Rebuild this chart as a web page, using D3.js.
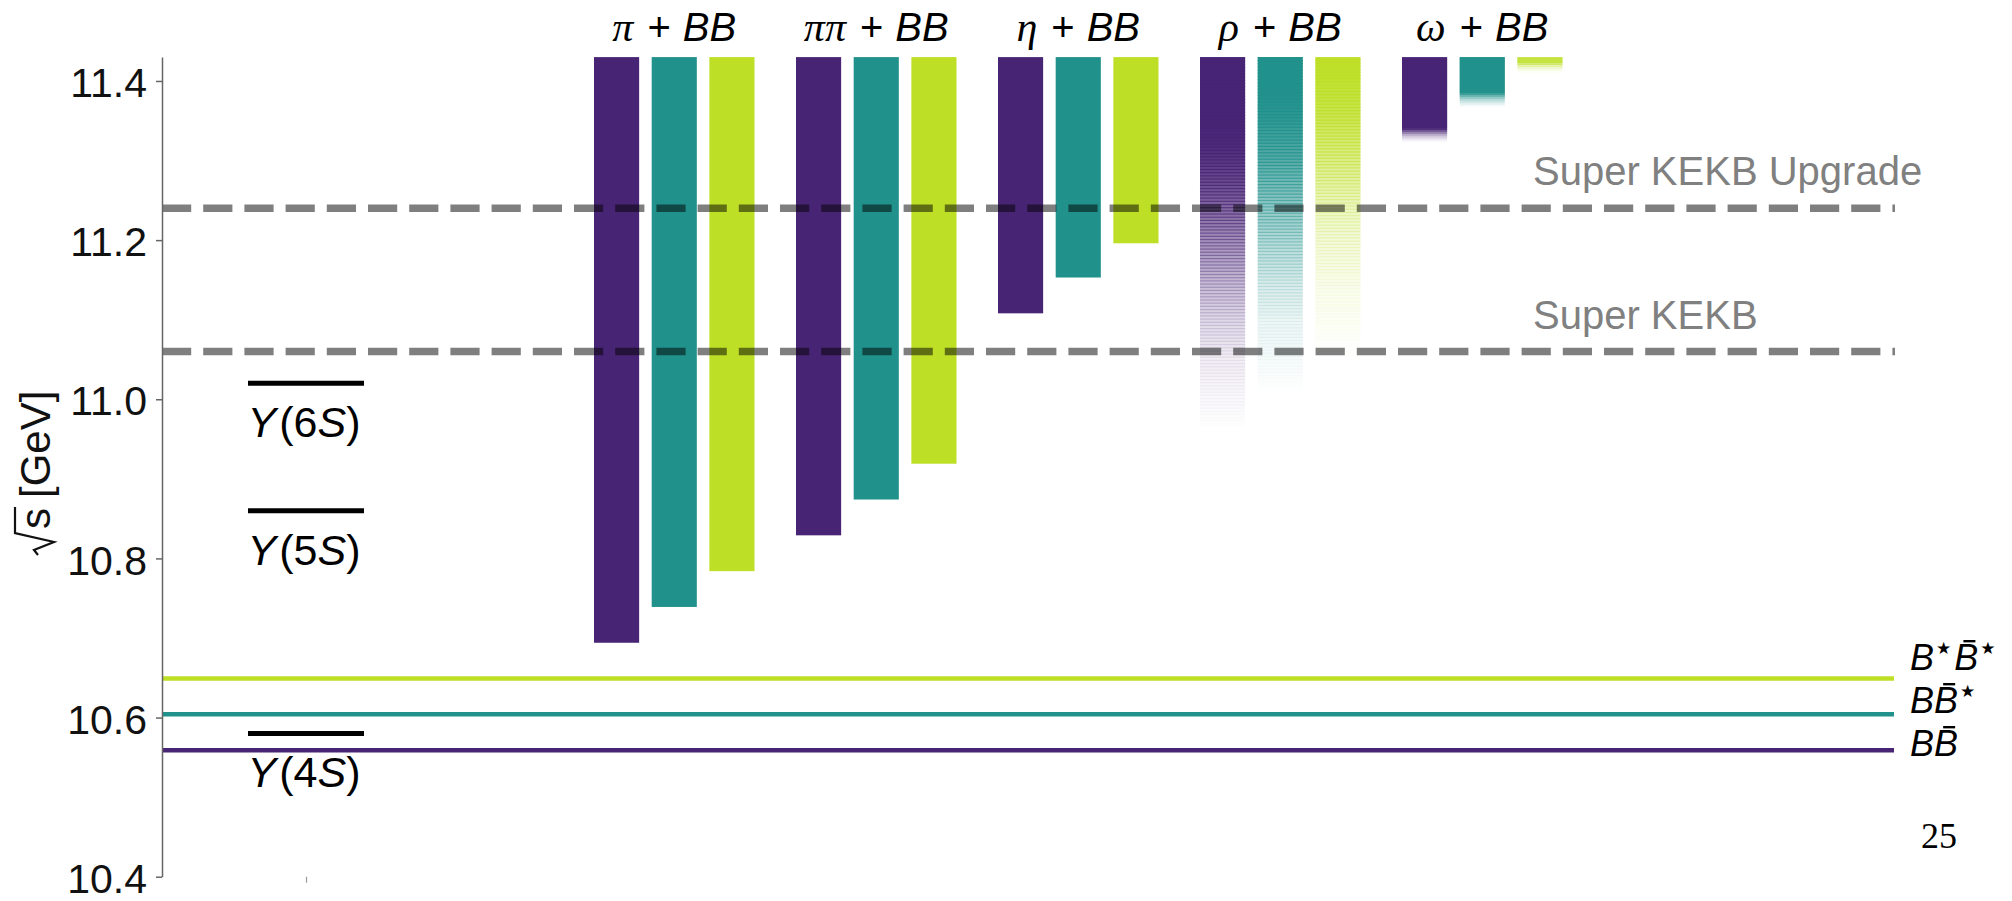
<!DOCTYPE html>
<html>
<head>
<meta charset="utf-8">
<script src="https://cdn.jsdelivr.net/npm/d3@7"></script>
<style>
  html, body { margin: 0; padding: 0; background: #fff; }
  svg { display: block; }
</style>
</head>
<body>
<svg id="chart" width="2012" height="901"></svg>
<script>
// ---------- data ----------
// centre-of-mass energy axis, GeV
const energyDomain = [10.4, 11.43];
const energyTicks = [10.4, 10.6, 10.8, 11.0, 11.2, 11.4];

// open-beauty pair thresholds: BB̄, BB̄*, B*B̄*
const thresholdKeys = ["BB", "BBs", "BsBs"];
const thresholdValues = [10.559, 10.604, 10.649];

// bottomonium levels
const upsilonStates = ["4S", "5S", "6S"];
const upsilonValues = [10.58, 10.86, 11.02];

// collider reach
const colliderLabels = ["Super KEKB", "Super KEKB Upgrade"];
const colliderValues = [11.06, 11.24];

// light-meson channels produced together with a B pair
const channels = ["π", "ππ", "η", "ρ", "ω"];

// narrow channels: opening energy over BB̄, BB̄*, B*B̄*
const piOpenings = [10.694, 10.739, 10.784];
const pipiOpenings = [10.829, 10.874, 10.919];
const etaOpenings = [11.108, 11.153, 11.196];

// broad channels: [energy, opacity] stops of the smeared opening
const rhoProfileBB = [[10.96, 0], [11.0, 0.035], [11.05, 0.08], [11.1, 0.18], [11.15, 0.33], [11.2, 0.52], [11.26, 0.78], [11.31, 0.95], [11.34, 1], [11.43, 1]];
const rhoProfileBBs = [[11.005, 0], [11.045, 0.035], [11.095, 0.08], [11.145, 0.18], [11.195, 0.33], [11.245, 0.52], [11.305, 0.78], [11.355, 0.95], [11.385, 1], [11.43, 1]];
const rhoProfileBsBs = [[11.05, 0], [11.09, 0.035], [11.14, 0.08], [11.19, 0.16], [11.24, 0.28], [11.29, 0.5], [11.35, 0.78], [11.4, 0.95], [11.43, 1]];

const omegaProfileBB = [[11.323, 0], [11.328, 0.12], [11.332, 0.3], [11.336, 0.6], [11.34, 1], [11.43, 1]];
const omegaProfileBBs = [[11.367, 0], [11.372, 0.12], [11.377, 0.3], [11.381, 0.6], [11.385, 1], [11.43, 1]];
const omegaProfileBsBs = [[11.41, 0], [11.415, 0.12], [11.419, 0.35], [11.423, 0.8], [11.43, 0.85]];

const pageNumber = "25";

// ---------- layout ----------
const W = 2012, H = 901;
const sans = "'Liberation Sans', Arial, Helvetica, sans-serif";
const serif = "'Liberation Serif', 'Times New Roman', serif";
const axisX = 162;
const lineEnd = 1894;
const levelCenter = 306, levelHalf = 58;

const svg = d3.select("#chart");
svg.append("rect").attr("width", W).attr("height", H).attr("fill", "#fff");

const y = d3.scaleLinear().domain(energyDomain).range([876.7, 57.1]);

const color = d3.scaleOrdinal()
  .domain(thresholdKeys)
  .range([0.1, 0.5, 0.9].map(d3.interpolateViridis));

const xGroup = d3.scaleBand()
  .domain(channels)
  .range([594, 1562.5])
  .paddingInner(0.2054)
  .paddingOuter(0)
  .align(0);

const xSub = d3.scaleBand()
  .domain(thresholdKeys)
  .range([0, xGroup.bandwidth()])
  .paddingInner(0.2174);

// ---------- bars ----------
const eTop = energyDomain[1];
const narrow = { "π": piOpenings, "ππ": pipiOpenings, "η": etaOpenings };
const broad = {
  "ρ": [rhoProfileBB, rhoProfileBBs, rhoProfileBsBs],
  "ω": [omegaProfileBB, omegaProfileBBs, omegaProfileBsBs]
};

const barsG = svg.append("g").attr("class", "bars");

Object.entries(narrow).forEach(([ch, vals]) => {
  barsG.append("g").selectAll("rect")
    .data(vals.map((v, i) => ({ ch, key: thresholdKeys[i], v })))
    .join("rect")
    .attr("x", d => xGroup(d.ch) + xSub(d.key))
    .attr("width", xSub.bandwidth())
    .attr("y", y(eTop))
    .attr("height", d => y(d.v) - y(eTop))
    .attr("fill", d => color(d.key));
});

// smeared openings drawn as thin overlapping strips
const stripStep = 0.004, stripSpan = 0.0055;
Object.entries(broad).forEach(([ch, profiles]) => {
  const step = ch === "ω" ? 0.0025 : stripStep;
  const span = ch === "ω" ? 0.0035 : stripSpan;
  profiles.forEach((prof, i) => {
    const key = thresholdKeys[i];
    const op = d3.scaleLinear()
      .domain(prof.map(d => d[0]))
      .range(prof.map(d => d[1]))
      .clamp(true);
    const lo = prof[0][0];
    const starts = d3.range(lo, eTop, step);
    barsG.append("g").selectAll("rect")
      .data(starts)
      .join("rect")
      .attr("x", xGroup(ch) + xSub(key))
      .attr("width", xSub.bandwidth())
      .attr("y", e => y(Math.min(eTop, e + span)))
      .attr("height", e => y(e) - y(Math.min(eTop, e + span)))
      .attr("fill", color(key))
      .attr("fill-opacity", e => op(Math.min(eTop, e + step / 2)));
  });
});

// ---------- threshold lines ----------
const thrG = svg.append("g");
thrG.selectAll("line")
  .data(thresholdKeys.map((k, i) => ({ k, v: thresholdValues[i] })))
  .join("line")
  .attr("x1", axisX).attr("x2", lineEnd)
  .attr("y1", d => y(d.v)).attr("y2", d => y(d.v))
  .attr("stroke", d => color(d.k))
  .attr("stroke-width", 4.5);

// threshold labels: tokens {t, bar, star}
const thresholdTokens = {
  "BB": [{ t: "B" }, { t: "B", bar: true }],
  "BBs": [{ t: "B" }, { t: "B", bar: true }, { star: true }],
  "BsBs": [{ t: "B" }, { star: true }, { t: "B", bar: true }, { star: true }]
};
const labelX = 1910, labelGap = 43;
thresholdKeys.forEach((k, i) => {
  const base = y(thresholdValues[0]) + 6 - labelGap * i;
  const txt = thrG.append("text")
    .attr("x", labelX).attr("y", base)
    .attr("font-family", sans).attr("font-size", 36)
    .attr("font-style", "italic").attr("fill", "#000");
  let raised = false;
  const barIdx = [];
  thresholdTokens[k].forEach((tok, j) => {
    if (tok.star) {
      txt.append("tspan")
        .attr("font-family", "'DejaVu Sans', sans-serif")
        .attr("font-style", "normal")
        .attr("font-size", 17)
        .attr("dy", raised ? 0 : -16)
        .attr("dx", 2)
        .text("★");
      raised = true;
    } else {
      txt.append("tspan").attr("dy", raised ? 16 : 0).attr("dx", raised ? 3 : 0).text(tok.t);
      raised = false;
      if (tok.bar) barIdx.push(j);
    }
  });
  barIdx.forEach(j => {
    const ext = txt.node().getExtentOfChar(j);
    thrG.append("line")
      .attr("x1", ext.x + ext.width * 0.38).attr("x2", ext.x + ext.width * 0.88)
      .attr("y1", base - 29).attr("y2", base - 29)
      .attr("stroke", "#000").attr("stroke-width", 2.4);
  });
});

// ---------- bottomonium levels ----------
const lvG = svg.append("g");
lvG.selectAll("line")
  .data(upsilonValues)
  .join("line")
  .attr("x1", levelCenter - levelHalf).attr("x2", levelCenter + levelHalf)
  .attr("y1", d => y(d)).attr("y2", d => y(d))
  .attr("stroke", "#000").attr("stroke-width", 5);

upsilonStates.forEach((s, i) => {
  const t = lvG.append("text")
    .attr("x", levelCenter - 2).attr("y", y(upsilonValues[i]) + 54)
    .attr("text-anchor", "middle")
    .attr("font-family", sans).attr("font-size", 43).attr("fill", "#000");
  t.append("tspan").attr("font-style", "italic").text("Υ");
  t.append("tspan").attr("dx", 3).text("(" + s[0]);
  t.append("tspan").attr("font-style", "italic").text(s.slice(1));
  t.append("tspan").text(")");
});

// ---------- collider reach ----------
const colG = svg.append("g");
colG.selectAll("line")
  .data(colliderValues)
  .join("line")
  .attr("x1", axisX).attr("x2", 1895)
  .attr("y1", d => y(d)).attr("y2", d => y(d))
  .attr("stroke", "#000").attr("stroke-opacity", 0.5)
  .attr("stroke-width", 7.5)
  .attr("stroke-dasharray", "29.2,12");
colG.selectAll("text")
  .data(colliderValues)
  .join("text")
  .attr("x", 1533).attr("y", d => y(d) - 23)
  .attr("font-family", sans).attr("font-size", 40)
  .attr("fill", "#808080")
  .text((d, i) => colliderLabels[i]);

// ---------- channel titles ----------
const titleG = svg.append("g");
channels.forEach(ch => {
  const cx = xGroup(ch) + xGroup.bandwidth() / 2;
  const t = titleG.append("text")
    .attr("x", cx).attr("y", 41)
    .attr("text-anchor", "middle")
    .attr("font-family", sans).attr("font-size", 40).attr("fill", "#000");
  t.append("tspan").attr("font-family", serif).attr("font-style", "italic").attr("font-size", 42).text(ch);
  t.append("tspan").attr("dx", 14).text("+");
  t.append("tspan").attr("dx", 12).attr("font-style", "italic").text("BB");
});

// ---------- axes ----------
const yAxis = d3.axisLeft(y)
  .tickValues(energyTicks)
  .tickFormat(d3.format(".1f"))
  .tickSize(6)
  .tickSizeOuter(0)
  .tickPadding(9);

const gy = svg.append("g")
  .attr("transform", `translate(${axisX},0)`)
  .call(yAxis);
gy.attr("font-family", sans).attr("font-size", 41);
gy.select(".domain").attr("stroke", "#666").attr("stroke-width", 1.5);
gy.selectAll(".tick line").attr("stroke", "#666").attr("stroke-width", 1.5);
gy.selectAll(".tick text").attr("fill", "#111").attr("dy", "0.38em");

// single category tick under the level column
const xLevels = d3.scalePoint().domain(["Υ"]).range([levelCenter, levelCenter]);
const gx = svg.append("g")
  .attr("transform", `translate(0,${y(energyDomain[0])})`)
  .call(d3.axisBottom(xLevels).tickSize(6).tickFormat(""));
gx.select(".domain").remove();
gx.selectAll(".tick line").attr("stroke", "#999").attr("stroke-width", 1.2);

// axis title: √s [GeV]
const titleY = svg.append("g").attr("transform", "translate(50,470) rotate(-90)");
const tt = titleY.append("text")
  .attr("x", -59).attr("y", 0)
  .attr("font-family", sans).attr("font-size", 42).attr("fill", "#111");
tt.append("tspan").text("s");
tt.append("tspan").attr("dx", 10).text("[GeV]");
const sExt = tt.node().getExtentOfChar(0);
titleY.append("path")
  .attr("d", `M-85,-12 L-80,-16 L-72,4 L-63,-35 L${sExt.x + sExt.width + 1},-35`)
  .attr("fill", "none").attr("stroke", "#111").attr("stroke-width", 2.2)
  .attr("stroke-linejoin", "miter");

// page number
svg.append("text")
  .attr("x", 1921).attr("y", 848)
  .attr("font-family", serif).attr("font-size", 36).attr("fill", "#000")
  .text(pageNumber);
</script>
</body>
</html>
